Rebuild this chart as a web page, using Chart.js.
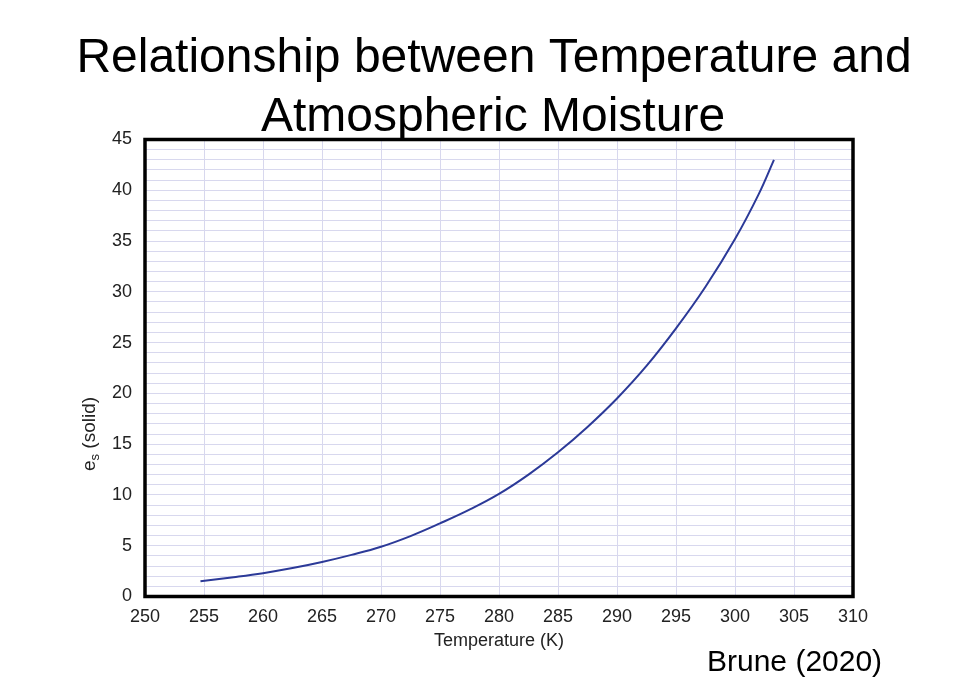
<!DOCTYPE html>
<html>
<head>
<meta charset="utf-8">
<script src="https://cdn.jsdelivr.net/npm/chart.js@4.4.1/dist/chart.umd.min.js"></script>
<style>
  html, body { margin: 0; padding: 0; background: #ffffff; }
  #wrap { width: 974px; height: 678px; }
</style>
</head>
<body>
<div id="wrap"><canvas id="c" width="974" height="678"></canvas></div>
<script>
// Data
const temperaturesK = [254.7, 257.5, 260, 262.5, 265, 267.5, 270, 272.5, 275, 277.5, 280, 282.5, 285, 287.5, 290, 292.5, 295, 297.5, 300, 302, 303.3];
const esSolid = [1.5, 1.9, 2.3, 2.8, 3.4, 4.1, 4.9, 5.95, 7.2, 8.55, 10.1, 12.0, 14.2, 16.7, 19.5, 22.7, 26.4, 30.5, 35.2, 39.6, 43.0];
const xTickValues = [250, 255, 260, 265, 270, 275, 280, 285, 290, 295, 300, 305, 310];
const yTickLabels = [0, 5, 10, 15, 20, 25, 30, 35, 40, 45];
const titleLines = ["Relationship between Temperature and", "Atmospheric Moisture"];
const xAxisTitle = "Temperature (K)";
const yAxisTitleMain = "e";
const yAxisTitleSub = "s";
const yAxisTitleRest = " (solid)";
const sourceNote = "Brune (2020)";

const FONT = "'Liberation Sans', Arial, Helvetica, sans-serif";

const points = temperaturesK.map((t, i) => ({ x: t, y: esSolid[i] }));

const decorPlugin = {
  id: 'decor',
  afterDraw(chart) {
    const { ctx, chartArea: a } = chart;
    ctx.save();
    // frame
    ctx.strokeStyle = '#000';
    ctx.lineWidth = 3.5;
    ctx.strokeRect(a.left, a.top, a.right - a.left, a.bottom - a.top);
    // title
    ctx.fillStyle = '#000';
    ctx.font = '48px ' + FONT;
    ctx.textAlign = 'center';
    ctx.textBaseline = 'alphabetic';
    ctx.fillText(titleLines[0], 494, 72);
    ctx.fillText(titleLines[1], 493, 131);
    // source note
    ctx.font = '30px ' + FONT;
    ctx.textAlign = 'left';
    ctx.fillText(sourceNote, 707, 671);
    // y axis title with subscript
    ctx.fillStyle = '#222';
    ctx.translate(95, 434);
    ctx.rotate(-Math.PI / 2);
    const big = '19px ' + FONT, small = '13px ' + FONT;
    ctx.font = big;
    const wMain = ctx.measureText(yAxisTitleMain).width;
    const wRest = ctx.measureText(yAxisTitleRest).width;
    ctx.font = small;
    const wSub = ctx.measureText(yAxisTitleSub).width;
    const total = wMain + wSub + wRest;
    let x = -total / 2;
    ctx.textAlign = 'left';
    ctx.font = big;
    ctx.fillText(yAxisTitleMain, x, 0);
    x += wMain;
    ctx.font = small;
    ctx.fillText(yAxisTitleSub, x, 4);
    x += wSub;
    ctx.font = big;
    ctx.fillText(yAxisTitleRest, x, 0);
    ctx.restore();
  }
};

new Chart(document.getElementById('c'), {
  type: 'line',
  data: {
    datasets: [{
      data: points,
      borderColor: '#2c3a98',
      borderWidth: 2,
      pointRadius: 0,
      fill: false,
      tension: 0.4
    }]
  },
  options: {
    responsive: false,
    animation: false,
    layout: { padding: { left: 0, top: 139.5, right: 121, bottom: 0 } },
    plugins: {
      legend: { display: false },
      tooltip: { enabled: false },
      title: { display: false }
    },
    scales: {
      x: {
        type: 'linear',
        min: 250,
        max: 310,
        afterFit(scale) { scale.height = 81.5; },
        afterBuildTicks(scale) { scale.ticks = xTickValues.map(v => ({ value: v })); },
        grid: { color: '#d8d8ee', lineWidth: 1, drawTicks: false },
        border: { display: false },
        ticks: {
          color: '#222',
          font: { family: FONT, size: 18 },
          padding: 10,
          maxRotation: 0,
          autoSkip: false
        },
        title: {
          display: true,
          text: xAxisTitle,
          color: '#222',
          font: { family: FONT, size: 18 },
          padding: { top: 0, bottom: 26 }
        }
      },
      y: {
        type: 'linear',
        min: 0,
        max: 45,
        afterFit(scale) { scale.width = 145; },
        grid: { color: '#d8d8ee', lineWidth: 1, drawTicks: false },
        border: { display: false },
        ticks: {
          stepSize: 1,
          autoSkip: false,
          color: '#222',
          font: { family: FONT, size: 18 },
          padding: 13,
          callback: (v) => (yTickLabels.includes(v) ? String(v) : '')
        }
      }
    }
  },
  plugins: [decorPlugin]
});
</script>
</body>
</html>
